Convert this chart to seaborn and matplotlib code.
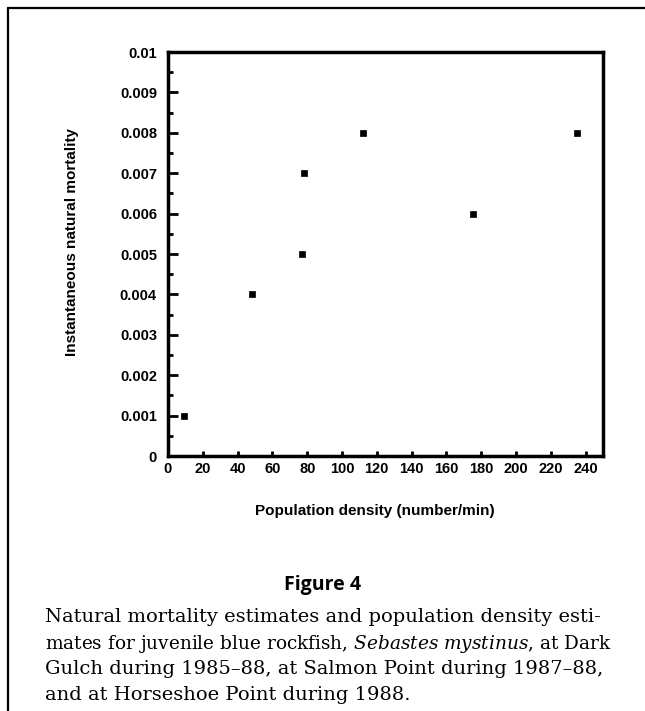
import matplotlib
matplotlib.use("Agg")
import matplotlib.pyplot as plt
from matplotlib import font_manager as fm
from matplotlib.lines import Line2D
from matplotlib.ticker import MultipleLocator
import pandas as pd
import seaborn as sns

# data
density = [9, 48, 77, 78, 112, 175, 235]
mortality = [0.001, 0.004, 0.005, 0.007, 0.008, 0.006, 0.008]
x_ticks = list(range(0, 241, 20))
y_ticks = [0, 0.001, 0.002, 0.003, 0.004, 0.005, 0.006, 0.007, 0.008, 0.009, 0.01]
y_tick_labels = ["0", "0.001", "0.002", "0.003", "0.004", "0.005",
                 "0.006", "0.007", "0.008", "0.009", "0.01"]
caption_lines = [
    "Natural mortality estimates and population density esti-",
    "mates for juvenile blue rockfish, $\\mathit{Sebastes\\ mystinus}$, at Dark",
    "Gulch during 1985\u201388, at Salmon Point during 1987\u201388,",
    "and at Horseshoe Point during 1988.",
]

df = pd.DataFrame({"density": density, "mortality": mortality})

sns.set_style("ticks", {"axes.edgecolor": "black", "text.color": "black",
                        "axes.labelcolor": "black", "xtick.color": "black",
                        "ytick.color": "black"})
plt.rcParams["font.family"] = ["Liberation Sans", "DejaVu Sans"]
plt.rcParams["mathtext.fontset"] = "custom"
plt.rcParams["mathtext.it"] = "DejaVu Serif:italic"
plt.rcParams["mathtext.rm"] = "DejaVu Serif"

# plain (not narrow) Liberation Sans Bold, picked by file
bold_file = [f for f in fm.findSystemFonts() if f.endswith("LiberationSans-Bold.ttf")]
if bold_file:
    def bold(size):
        return fm.FontProperties(fname=bold_file[0], size=size)
else:
    def bold(size):
        return fm.FontProperties(family="DejaVu Sans", weight="bold", size=size * 0.9)

fig = plt.figure(figsize=(6.45, 7.11), dpi=100)
ax = fig.add_axes([168 / 645, 1 - 456 / 711, 435 / 645, 404 / 711])

sns.scatterplot(x="density", y="mortality", data=df, ax=ax, marker="s",
                color="black", s=22, edgecolor="black", linewidth=0.5)

ax.set_xlim(0, 250)
ax.set_ylim(0, 0.01)
ax.set_xticks(x_ticks)
ax.set_xticklabels([str(v) for v in x_ticks], fontproperties=bold(10.5))
ax.set_yticks(y_ticks)
ax.set_yticklabels(y_tick_labels, fontproperties=bold(10.5))
ax.yaxis.set_minor_locator(MultipleLocator(0.0005))
ax.tick_params(axis="y", which="major", direction="in", length=7, width=2, pad=8)
ax.tick_params(axis="y", which="minor", direction="in", length=3.5, width=2)
ax.tick_params(axis="x", which="major", direction="in", length=3.5, width=2, pad=4)
for sp in ax.spines.values():
    sp.set_visible(True)
    sp.set_linewidth(2.5)

ax.set_xlabel("Population density (number/min)", fontproperties=bold(11))
ax.set_ylabel("Instantaneous natural mortality", fontproperties=bold(11))
ax.xaxis.set_label_coords(0.475, -0.12)
ax.yaxis.set_label_coords(-0.205, 0.53)

# page frame (left and top rules)
fig.add_artist(Line2D([8 / 645, 8 / 645], [0, 1 - 8 / 711], color="black", lw=1.6))
fig.add_artist(Line2D([8 / 645, 1], [1 - 8 / 711, 1 - 8 / 711], color="black", lw=1.6))

fig.text(323 / 645, 1 - 585 / 711, "Figure 4", ha="center", va="center",
         fontsize=14, fontweight="bold", family=["Open Sans", "DejaVu Sans"])

caption_sizes = [14, 13.3, 14, 14]
for i, (line, size) in enumerate(zip(caption_lines, caption_sizes)):
    fig.text(45 / 645, 1 - (615 + 26 * i) / 711, line, ha="left", va="center_baseline",
             fontsize=size, family=["DejaVu Serif"])

fig.savefig("out.png", dpi=100)
